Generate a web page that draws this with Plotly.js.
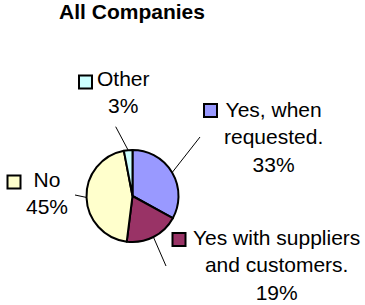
<!DOCTYPE html>
<html><head><meta charset="utf-8">
<script src="https://cdn.plot.ly/plotly-3.0.1.min.js"></script>
<style>html,body{margin:0;padding:0;background:#fff}#chart{width:365px;height:305px}</style>
</head><body><div id="chart"></div>
<script>
// ---- data ----
const categories = ['Yes, when requested.', 'Yes with suppliers and customers.', 'No', 'Other'];
const labelLines = [['Yes, when', 'requested.'], ['Yes with suppliers', 'and customers.'], ['No'], ['Other']];
const values = [33, 19, 45, 3];
const colors = ['#9999FF', '#993366', '#FFFFCC', '#CCFFFF'];
const chartTitle = 'All Companies';

// ---- layout (pixels) ----
const W = 365, H = 305;
const cx = 132.5, cy = 196, r = 46;
const FONT = 'Arial, "Liberation Sans", sans-serif';
const FS = 21;
const labelPos = [[273.5, 95.5], [276, 223.5], [47, 165.5], [123.5, 65]];   // text centre x, top y
const keyPos = [[204, 104], [172.5, 233], [7.5, 175.5], [79, 75.5]];       // key top-left
const leaderEnd = [[200, 137], [166, 266], [75, 195], [115.7, 126.7]];
const KEY = 13;

const px = x => x / W;
const py = y => 1 - y / H;
const total = values.reduce((a, b) => a + b, 0);

const annotations = [];
const shapes = [];
let cum = 0;
values.forEach((v, i) => {
  const pct = Math.round(v / total * 100) + '%';
  const lines = labelLines[i].slice();
  lines.push(pct);
  annotations.push({
    xref: 'paper', yref: 'paper', x: px(labelPos[i][0]), y: py(labelPos[i][1]),
    xanchor: 'center', yanchor: 'top', align: 'center', showarrow: false,
    text: lines.join('<br>'), font: {family: FONT, size: FS, color: '#000'}
  });
  shapes.push({
    type: 'rect', xref: 'paper', yref: 'paper',
    x0: px(keyPos[i][0]), x1: px(keyPos[i][0] + KEY),
    y0: py(keyPos[i][1] + KEY), y1: py(keyPos[i][1]),
    fillcolor: colors[i], line: {color: '#000', width: 2}
  });
  const th = 2 * Math.PI * (cum + v / 2) / total;
  cum += v;
  shapes.push({
    type: 'line', xref: 'paper', yref: 'paper',
    x0: px(cx + r * Math.sin(th)), y0: py(cy - r * Math.cos(th)),
    x1: px(leaderEnd[i][0]), y1: py(leaderEnd[i][1]),
    line: {color: '#000', width: 1}
  });
});

const data = [{
  type: 'pie', labels: categories, values: values, sort: false, direction: 'clockwise', rotation: 0,
  marker: {colors: colors, line: {color: '#000', width: 2}},
  textinfo: 'none', hoverinfo: 'label+percent',
  domain: {x: [px(cx - r), px(cx + r)], y: [py(cy + r), py(cy - r)]}
}];

const layout = {
  width: W, height: H, margin: {l: 0, r: 0, t: 0, b: 0},
  paper_bgcolor: '#fff', plot_bgcolor: '#fff', showlegend: false,
  title: {text: '<b>' + chartTitle + '</b>', x: px(132), xanchor: 'center', xref: 'paper',
          y: py(12), yref: 'paper', yanchor: 'middle',
          font: {family: FONT, size: 21, color: '#000'}},
  annotations: annotations, shapes: shapes
};
Plotly.newPlot('chart', data, layout, {displayModeBar: false, staticPlot: true});
</script></body></html>
